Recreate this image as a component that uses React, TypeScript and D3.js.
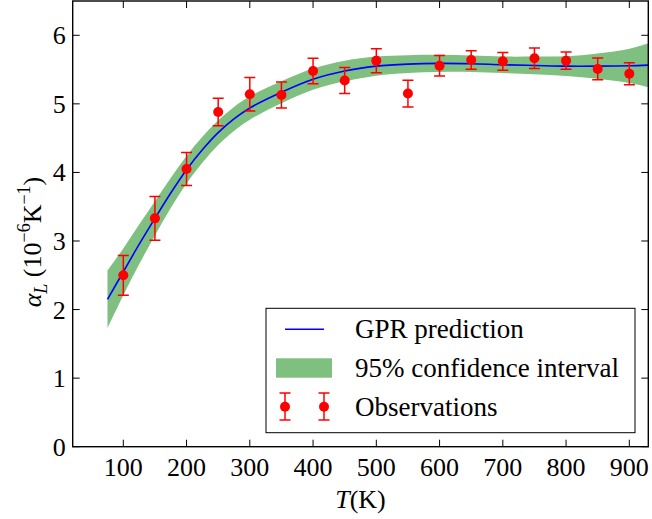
import React from 'react';
import * as d3 from 'd3';

const obsT = [100, 150, 200, 250, 300, 350, 400, 450, 500, 550, 600, 650, 700, 750, 800, 850, 900];
const obsVal = [2.5, 3.33, 4.05, 4.88, 5.14, 5.13, 5.48, 5.34, 5.63, 5.15, 5.555, 5.64, 5.62, 5.665, 5.63, 5.51, 5.44];
const obsErr = [0.29, 0.32, 0.24, 0.2, 0.245, 0.19, 0.185, 0.19, 0.175, 0.195, 0.15, 0.135, 0.13, 0.15, 0.125, 0.16, 0.16];

const predT = [75, 100, 125, 150, 175, 200, 225, 250, 275, 300, 350, 400, 450, 500, 550, 600, 650, 700, 750, 800, 850, 900, 930];
const predMean = [2.15, 2.55, 2.95, 3.33, 3.7, 4.04, 4.33, 4.58, 4.78, 4.94, 5.17, 5.36, 5.48, 5.55, 5.58, 5.59, 5.585, 5.57, 5.56, 5.55, 5.55, 5.555, 5.565];
const predHalf = [0.42, 0.34, 0.29, 0.25, 0.22, 0.2, 0.19, 0.18, 0.175, 0.17, 0.16, 0.155, 0.15, 0.14, 0.13, 0.125, 0.12, 0.12, 0.13, 0.145, 0.185, 0.25, 0.32];

const xTicks = [100, 200, 300, 400, 500, 600, 700, 800, 900];
const yTicks = [0, 1, 2, 3, 4, 5, 6];
const legendLabels = ['GPR prediction', '95% confidence interval', 'Observations'];

const W = 652;
const H = 519;
const L = 72.7, R = 648.3, T0 = 1, B = 446.7;
const FONT = "'Liberation Serif', 'Times New Roman', Tinos, 'DejaVu Serif', serif";
const FS = 26;
const LFS = 27;

export default function App() {
  const x = d3.scaleLinear().domain([20, 930]).range([L, R]);
  const y = d3.scaleLinear().domain([0, 6.5]).range([B, T0]);

  const pts = predT.map((t, i) => ({ t, m: predMean[i], h: predHalf[i] }));
  const area = d3
    .area<{ t: number; m: number; h: number }>()
    .x((d) => x(d.t))
    .y0((d) => y(d.m - d.h))
    .y1((d) => y(d.m + d.h))
    .curve(d3.curveCatmullRom.alpha(0.5));
  const line = d3
    .line<{ t: number; m: number; h: number }>()
    .x((d) => x(d.t))
    .y((d) => y(d.m))
    .curve(d3.curveCatmullRom.alpha(0.5));

  const red = '#ff0000';
  const green = '#7fbf7f';
  const blue = '#0000ff';
  const ts = { fontFamily: FONT };

  const errorBar = (cx: number, cy: number, top: number, bot: number, key: string | number) => (
    <g key={key}>
      <line x1={cx} x2={cx} y1={top} y2={bot} stroke={red} strokeWidth={1.5} />
      <line x1={cx - 5.5} x2={cx + 5.5} y1={top} y2={top} stroke={red} strokeWidth={1.5} />
      <line x1={cx - 5.5} x2={cx + 5.5} y1={bot} y2={bot} stroke={red} strokeWidth={1.5} />
      <circle cx={cx} cy={cy} r={5} fill={red} />
    </g>
  );

  return (
    <svg
      width={W}
      height={H}
      style={{ position: 'absolute', left: 0, top: 0, background: '#fff', fontFamily: FONT }}
    >
      <defs>
        <clipPath id="plotclip">
          <rect x={L} y={T0} width={R - L} height={B - T0} />
        </clipPath>
      </defs>
      <rect x={0} y={0} width={W} height={H} fill="#fff" />
      <g clipPath="url(#plotclip)">
        <path d={area(pts) || ''} fill={green} stroke="none" />
        <path d={line(pts) || ''} fill="none" stroke={blue} strokeWidth={1.6} />
        {obsT.map((t, i) =>
          errorBar(x(t), y(obsVal[i]), y(obsVal[i] + obsErr[i]), y(obsVal[i] - obsErr[i]), i)
        )}
      </g>

      {xTicks.map((t) => (
        <g key={'xt' + t}>
          <line x1={x(t)} x2={x(t)} y1={B} y2={B - 7} stroke="#000" strokeWidth={1} />
          <line x1={x(t)} x2={x(t)} y1={T0} y2={T0 + 7} stroke="#000" strokeWidth={1} />
          <text x={x(t)} y={B + 29} textAnchor="middle" fontSize={FS} fill="#000" style={ts}>
            {t}
          </text>
        </g>
      ))}
      {yTicks.map((v) => (
        <g key={'yt' + v}>
          <line x1={L} x2={L + 7} y1={y(v)} y2={y(v)} stroke="#000" strokeWidth={1} />
          <line x1={R} x2={R - 7} y1={y(v)} y2={y(v)} stroke="#000" strokeWidth={1} />
          <text x={L - 7} y={y(v) + 9} textAnchor="end" fontSize={FS} fill="#000" style={ts}>
            {v}
          </text>
        </g>
      ))}
      <rect x={L} y={T0} width={R - L} height={B - T0} fill="none" stroke="#000" strokeWidth={1.4} />

      <text x={(L + R) / 2} y={508} textAnchor="middle" fontSize={FS} fill="#000" style={ts}>
        <tspan fontStyle="italic">T</tspan>
        <tspan>(K)</tspan>
      </text>
      <text transform="translate(41,242) rotate(-90)" textAnchor="middle" fontSize={FS} fill="#000" style={ts}>
        <tspan fontStyle="italic">α</tspan>
        <tspan fontStyle="italic" fontSize={18} dy={6}>L</tspan>
        <tspan dy={-6}> (10</tspan>
        <tspan fontSize={18} dy={-11}>−6</tspan>
        <tspan dy={11}>K</tspan>
        <tspan fontSize={18} dy={-11}>−1</tspan>
        <tspan dy={11}>)</tspan>
      </text>

      <g>
        <rect x={266} y={308.3} width={369} height={124.4} fill="#fff" stroke="#000" strokeWidth={1} />
        <line x1={285} x2={324} y1={329.3} y2={329.3} stroke={blue} strokeWidth={1.6} />
        <text x={355} y={338} fontSize={LFS} fill="#000" style={ts}>{legendLabels[0]}</text>
        <rect x={276} y={358.3} width={56} height={19.4} fill={green} />
        <text x={355} y={377} fontSize={LFS} fill="#000" style={ts}>{legendLabels[1]}</text>
        {errorBar(285, 406.7, 393, 420, 'l1')}
        {errorBar(324, 406.7, 393, 420, 'l2')}
        <text x={355} y={416} fontSize={LFS} fill="#000" style={ts}>{legendLabels[2]}</text>
      </g>
    </svg>
  );
}
